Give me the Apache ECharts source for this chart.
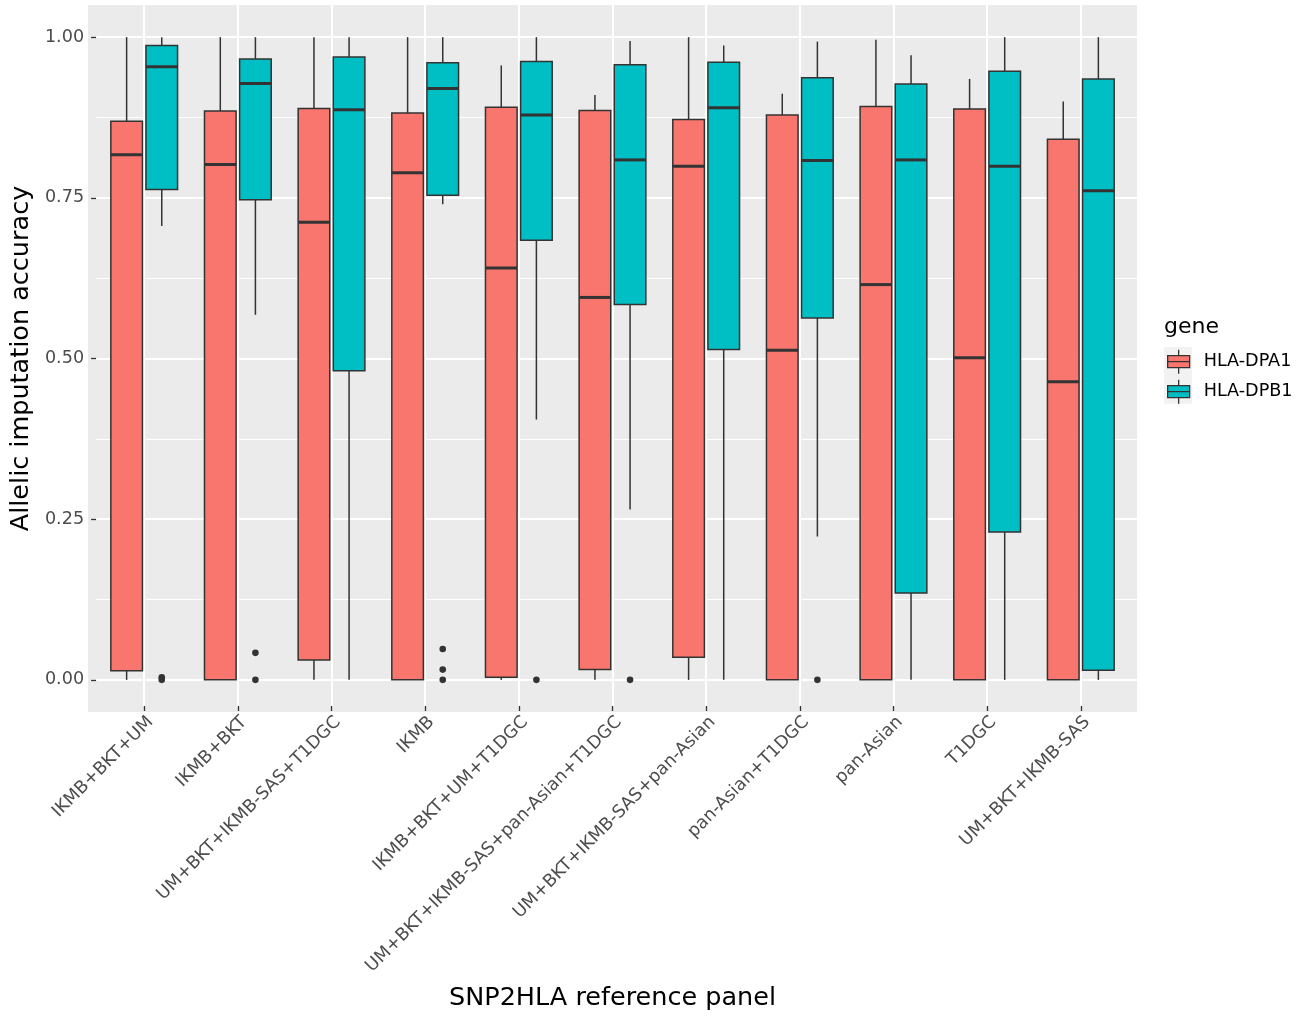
<!DOCTYPE html>
<html>
<head>
<meta charset="utf-8">
<script src="https://cdn.jsdelivr.net/npm/echarts@6/dist/echarts.min.js"></script>
<style>
  html, body { margin: 0; padding: 0; background: #ffffff; }
  #chart { width: 1303px; height: 1016px; }
</style>
</head>
<body>
<div id="chart"></div>
<script>
// Reference panels on the x axis
const categories = [
  'IKMB+BKT+UM',
  'IKMB+BKT',
  'UM+BKT+IKMB-SAS+T1DGC',
  'IKMB',
  'IKMB+BKT+UM+T1DGC',
  'UM+BKT+IKMB-SAS+pan-Asian+T1DGC',
  'UM+BKT+IKMB-SAS+pan-Asian',
  'pan-Asian+T1DGC',
  'pan-Asian',
  'T1DGC',
  'UM+BKT+IKMB-SAS'
];

const genes = ['HLA-DPA1', 'HLA-DPB1'];

// Box statistics per panel: [lower whisker, Q1, median, Q3, upper whisker]
const dpa1Stats = [
  [0, 0.014, 0.817, 0.869, 1.000],
  [0, 0.000, 0.802, 0.885, 1.000],
  [0, 0.031, 0.712, 0.889, 1.000],
  [0, 0.000, 0.789, 0.882, 1.000],
  [0, 0.004, 0.641, 0.891, 0.956],
  [0, 0.016, 0.595, 0.886, 0.910],
  [0, 0.035, 0.799, 0.872, 1.000],
  [0, 0.000, 0.513, 0.879, 0.912],
  [0, 0.000, 0.615, 0.892, 0.996],
  [0, 0.000, 0.501, 0.888, 0.935],
  [0, 0.000, 0.464, 0.841, 0.900]
];

const dpb1Stats = [
  [0.706, 0.763, 0.954, 0.987, 1.000],
  [0.568, 0.747, 0.928, 0.966, 1.000],
  [0.000, 0.481, 0.887, 0.969, 1.000],
  [0.740, 0.754, 0.920, 0.960, 1.000],
  [0.405, 0.684, 0.879, 0.962, 1.000],
  [0.265, 0.584, 0.809, 0.957, 0.994],
  [0.000, 0.514, 0.890, 0.961, 0.987],
  [0.223, 0.563, 0.808, 0.937, 0.993],
  [0.000, 0.135, 0.809, 0.927, 0.972],
  [0.000, 0.230, 0.799, 0.947, 1.000],
  [0.000, 0.015, 0.761, 0.935, 1.000]
];

// Outlying accuracies beyond the whiskers, per panel
const dpa1Outliers = [[], [], [], [], [], [], [], [], [], [], []];
const dpb1Outliers = [[0.004, 0], [0.042, 0], [], [0.048, 0.016, 0], [0], [0], [], [0], [], [], []];

const yTicks = [0, 0.25, 0.5, 0.75, 1];

// ---- styling / layout ----
const FILL = { 'HLA-DPA1': '#F8766D', 'HLA-DPB1': '#00BFC4' };
const INK = '#333333';
const FONT = 'DejaVu Sans';
const PANEL = { left: 88, top: 5, width: 1049, height: 707 };
const X_LIM = [-0.6, categories.length - 1 + 0.6];   // discrete expansion
const Y_LIM = [-0.05, 1.05];                          // 5% continuous expansion
const DODGE = 0.75;                                   // dodge width per panel
const BOX_W = DODGE / 2 * 0.9;                        // box width after padding

const xSpan = X_LIM[1] - X_LIM[0];
const ySpan = Y_LIM[1] - Y_LIM[0];
const pxX = PANEL.width / xSpan;
const pxY = PANEL.height / ySpan;

function boxData(stats) {
  return stats.map((s, i) => [i].concat(s));
}
function outlierData(list) {
  const out = [];
  list.forEach((vals, i) => vals.forEach(v => out.push([i, v])));
  return out;
}

function boxRenderer(offset, color) {
  return function (params, api) {
    const i = api.value(0);
    const band = api.size([1, 0])[0];
    const cx = api.coord([i, 0])[0] + offset * band;
    const w = BOX_W * band;
    const y = k => api.coord([i, api.value(k)])[1];
    const lw = 1.5;
    return {
      type: 'group',
      children: [
        { type: 'line', shape: { x1: cx, y1: y(5), x2: cx, y2: y(4) }, style: { stroke: INK, lineWidth: lw } },
        { type: 'line', shape: { x1: cx, y1: y(2), x2: cx, y2: y(1) }, style: { stroke: INK, lineWidth: lw } },
        { type: 'rect', shape: { x: cx - w / 2, y: y(4), width: w, height: y(2) - y(4) },
          style: { fill: color, stroke: INK, lineWidth: lw } },
        { type: 'line', shape: { x1: cx - w / 2, y1: y(3), x2: cx + w / 2, y2: y(3) },
          style: { stroke: INK, lineWidth: 3 } }
      ]
    };
  };
}

function outlierRenderer(offset) {
  return function (params, api) {
    const band = api.size([1, 0])[0];
    const p = api.coord([api.value(0), api.value(1)]);
    return { type: 'circle', shape: { cx: p[0] + offset * band, cy: p[1], r: 3.3 }, style: { fill: INK } };
  };
}

const offsets = [-DODGE / 4, DODGE / 4];
const statsByGene = [dpa1Stats, dpb1Stats];
const outliersByGene = [dpa1Outliers, dpb1Outliers];

const series = [];
genes.forEach((g, gi) => {
  series.push({
    name: g,
    type: 'custom',
    xAxisIndex: 0, yAxisIndex: 0,
    itemStyle: { color: FILL[g] },
    renderItem: boxRenderer(offsets[gi], FILL[g]),
    encode: { x: 0, y: [1, 2, 3, 4, 5] },
    data: boxData(statsByGene[gi]),
    z: 3
  });
  series.push({
    name: g,
    type: 'custom',
    xAxisIndex: 0, yAxisIndex: 0,
    itemStyle: { color: FILL[g] },
    renderItem: outlierRenderer(offsets[gi]),
    encode: { x: 0, y: 1 },
    data: outlierData(outliersByGene[gi]),
    z: 4
  });
});

const keyIcon = 'path://M0,0M34,28M14,2L14,8M3,8L25,8L25,20L3,20ZM3,14L25,14M14,20L14,26';

const chart = echarts.init(document.getElementById('chart'), null, { renderer: 'canvas' });
chart.setOption({
  animation: false,
  backgroundColor: '#ffffff',
  textStyle: { fontFamily: FONT },
  title: {
    text: 'gene', left: 1164, top: 316, padding: 0,
    textStyle: { fontFamily: FONT, fontSize: 22, fontWeight: 'normal', color: '#000000' }
  },
  legend: {
    data: genes.map(g => ({ name: g, icon: keyIcon })),
    orient: 'vertical', left: 1164, top: 347, padding: 0,
    itemWidth: 34, itemHeight: 28, itemGap: 0.7,
    itemStyle: { borderColor: INK, borderWidth: 1.3 },
    textStyle: { fontFamily: FONT, fontSize: 17.6, color: '#000000' },
    selectedMode: false
  },
  graphic: [
    { type: 'rect', left: 1164, top: 347, z: -1, shape: { width: 28, height: 56.7 }, style: { fill: '#F2F2F2' } }
  ],
  grid: [
    // panel: background and data marks
    { left: PANEL.left, top: PANEL.top, width: PANEL.width, height: PANEL.height,
      show: true, backgroundColor: '#EBEBEB', borderWidth: 0 },
    // y guide: 0..1 sub-range of the panel
    { left: PANEL.left, top: PANEL.top + (Y_LIM[1] - 1) * pxY, width: PANEL.width, height: 1 * pxY },
    // x guide: first..last category sub-range of the panel
    { left: PANEL.left + (0 - X_LIM[0]) * pxX, top: PANEL.top,
      width: (categories.length - 1) * pxX, height: PANEL.height }
  ],
  xAxis: [
    { gridIndex: 0, type: 'value', min: X_LIM[0], max: X_LIM[1], show: false },
    { gridIndex: 1, type: 'value', min: 0, max: 1, show: false },
    {
      gridIndex: 2, type: 'value', min: 0, max: categories.length - 1, interval: 1,
      axisLine: { show: false },
      axisTick: { show: true, length: 5, lineStyle: { color: INK, width: 1.3 } },
      axisLabel: {
        rotate: 45, margin: 7, verticalAlign: 'top', fontSize: 17.6, color: '#4D4D4D', fontFamily: FONT,
        formatter: v => categories[v] || ''
      },
      splitLine: { show: true, lineStyle: { color: '#ffffff', width: 2 } },
      name: 'SNP2HLA reference panel', nameLocation: 'middle', nameGap: 279,
      nameTextStyle: { fontSize: 25.5, color: '#000000', fontFamily: FONT }
    }
  ],
  yAxis: [
    { gridIndex: 0, type: 'value', min: Y_LIM[0], max: Y_LIM[1], show: false },
    {
      gridIndex: 1, type: 'value', min: yTicks[0], max: yTicks[yTicks.length - 1], interval: yTicks[1] - yTicks[0],
      axisLine: { show: false },
      axisTick: { show: true, length: 5, lineStyle: { color: INK, width: 1.3 } },
      axisLabel: { margin: 12, fontSize: 17.6, color: '#4D4D4D', fontFamily: FONT, formatter: v => v.toFixed(2) },
      splitLine: { show: true, lineStyle: { color: '#ffffff', width: 2 } },
      minorTick: { show: false, splitNumber: 2 },
      minorSplitLine: { show: true, lineStyle: { color: '#ffffff', width: 1 } },
      name: 'Allelic imputation accuracy', nameLocation: 'middle', nameGap: 48, nameRotate: 90,
      nameTextStyle: { fontSize: 25.5, color: '#000000', fontFamily: FONT }
    },
    { gridIndex: 2, type: 'value', min: 0, max: 1, show: false }
  ],
  series: series
});
</script>
</body>
</html>
